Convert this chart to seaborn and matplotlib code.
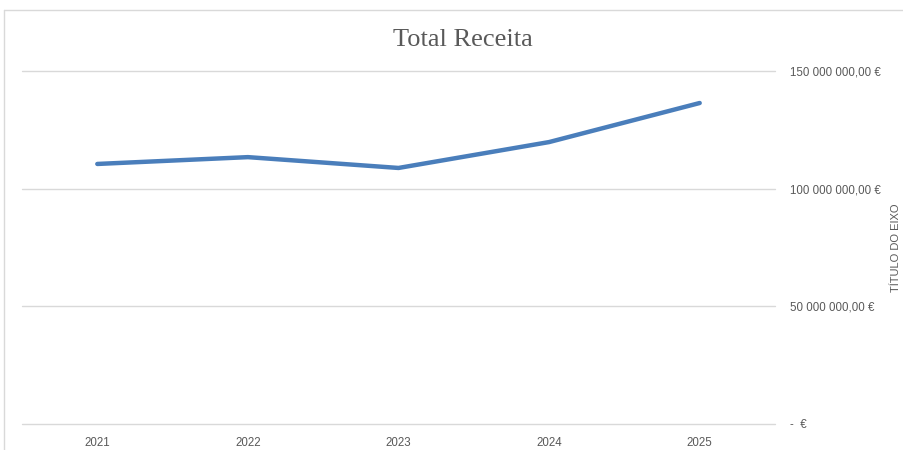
import matplotlib
matplotlib.use("Agg")
import matplotlib.pyplot as plt
from matplotlib.lines import Line2D
import seaborn as sns
import pandas as pd

years = ["2021", "2022", "2023", "2024", "2025"]
receita = [110.5e6, 113.4e6, 108.8e6, 119.8e6, 136.4e6]
yticks = [0, 50e6, 100e6, 150e6]
ytick_labels = ["-  €", "50 000 000,00 €", "100 000 000,00 €", "150 000 000,00 €"]

sns.set_theme(style="white")
plt.rcParams['font.family'] = ['Liberation Sans', 'DejaVu Sans']

df = pd.DataFrame({"Ano": years, "Receita": receita})

fig = plt.figure(figsize=(9.04, 4.5), dpi=100)
ax = fig.add_axes([22/904, 1-424/450, (775-22)/904, (424-71)/450])

sns.lineplot(data=df, x="Ano", y="Receita", ax=ax, color="#4a7ebb",
             linewidth=3.2, solid_capstyle="round", sort=False, zorder=3)

ax.set_xlim(-0.5, 4.5)
ax.set_ylim(0, 150e6)
ax.set_yticks(yticks)
ax.set_yticklabels(ytick_labels)
ax.yaxis.tick_right()
ax.yaxis.set_label_position("right")
ax.grid(axis="y", color="#d9d9d9", linewidth=1)
for gl in ax.yaxis.get_gridlines():
    gl.set_clip_on(False)
ax.grid(axis="x", visible=False)
for s in ax.spines.values():
    s.set_visible(False)
ax.tick_params(axis="y", length=0, pad=11, labelsize=8.3, labelcolor="#595959")
ax.tick_params(axis="x", length=0, pad=9, labelsize=8.3, labelcolor="#595959")
ax.set_xlabel("")
ax.set_ylabel("TÍTULO DO EIXO", fontsize=8, color="#595959", labelpad=0)
ax.yaxis.set_label_coords((891-22)/(775-22), 0.5)

fig.text(463/904, 1-40/450, "Total Receita", ha="center", va="center",
         fontsize=19, color="#595959", family=["Liberation Serif", "DejaVu Serif"])

# chart border (top and left visible)
fig.add_artist(Line2D([4/904, 1], [1-10/450, 1-10/450], color="#d9d9d9", linewidth=1, transform=fig.transFigure))
fig.add_artist(Line2D([4/904, 4/904], [0, 1-10/450], color="#d9d9d9", linewidth=1, transform=fig.transFigure))

fig.savefig("out.png", dpi=100, facecolor="white")
